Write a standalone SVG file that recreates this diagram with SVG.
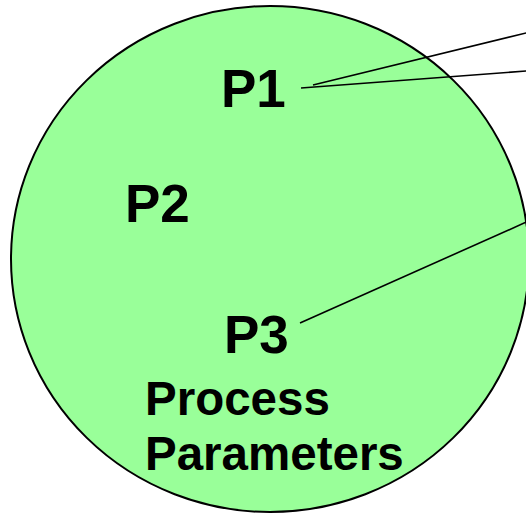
<svg xmlns="http://www.w3.org/2000/svg" width="526" height="515" viewBox="0 0 526 515">
<style>
.lbl{font-family:"Liberation Sans",Arial,sans-serif;font-weight:bold;fill:#000}
.big{font-size:53px}
.small{font-size:47.5px}
.conn{stroke:#000;stroke-width:1.6;fill:none}
</style>
<rect width="526" height="515" fill="#fff"/>
<g id="set">
<ellipse cx="270" cy="259" rx="259" ry="253" fill="#99FF99" stroke="#000" stroke-width="2"/>
</g>
<g id="connectors">
<line class="conn" x1="313" y1="85" x2="540" y2="29.6"/>
<line class="conn" x1="301" y1="88" x2="540" y2="70"/>
<line class="conn" x1="300" y1="323" x2="540" y2="216"/>
</g>
<g id="p1"><text class="lbl big" x="221" y="107">P1</text></g>
<g id="p2"><text class="lbl big" x="125" y="222">P2</text></g>
<g id="p3"><text class="lbl big" x="224" y="353">P3</text></g>
<g id="title"><text class="lbl small" x="145" y="415">Process</text><text class="lbl small" x="145" y="470">Parameters</text></g>
</svg>
